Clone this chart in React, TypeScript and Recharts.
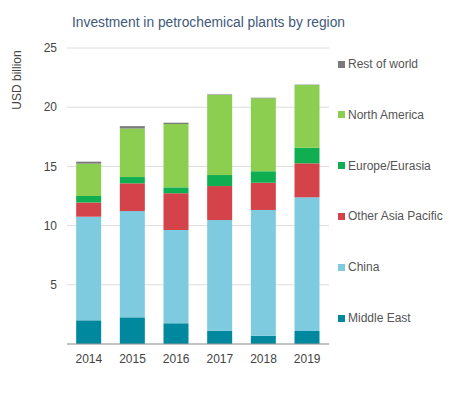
import React from 'react';
import { BarChart, Bar, XAxis, YAxis, CartesianGrid } from 'recharts';

const years = ['2014', '2015', '2016', '2017', '2018', '2019'];
const middleEast = [2.0, 2.25, 1.75, 1.13, 0.7, 1.1];
const china = [8.75, 8.98, 7.88, 9.34, 10.62, 11.29];
const otherAsiaPacific = [1.2, 2.34, 3.1, 2.87, 2.3, 2.87];
const europeEurasia = [0.55, 0.53, 0.5, 0.93, 0.97, 1.32];
const northAmerica = [2.73, 4.1, 5.35, 6.76, 6.16, 5.3];
const restOfWorld = [0.17, 0.2, 0.11, 0.05, 0.05, 0.03];
const yTicks = [0, 5, 10, 15, 20, 25];

const series = [
  { key: 'Middle East', values: middleEast, color: '#00889e' },
  { key: 'China', values: china, color: '#7ecbe0' },
  { key: 'Other Asia Pacific', values: otherAsiaPacific, color: '#d4434a' },
  { key: 'Europe/Eurasia', values: europeEurasia, color: '#0fae50' },
  { key: 'North America', values: northAmerica, color: '#8cce50' },
  { key: 'Rest of world', values: restOfWorld, color: '#7a7a7a' },
];

const data = years.map((y, i) => {
  const row: Record<string, any> = { year: y };
  series.forEach((s) => (row[s.key] = s.values[i]));
  return row;
});

const FONT = '"Liberation Sans", Arial, sans-serif';

const LegendBlock = () => {
  const items = [...series].reverse();
  return (
    <div style={{ position: 'absolute', left: 338, top: 57, width: 112, height: 300 }}>
      {items.map((s, i) => (
        <div
          key={s.key}
          style={{
            position: 'absolute',
            left: 0,
            top: i * 50.8,
            display: 'flex',
            alignItems: 'center',
            fontFamily: FONT,
            fontSize: 12,
            color: '#555',
            whiteSpace: 'nowrap',
            lineHeight: '14px',
          }}
        >
          <span
            style={{
              display: 'inline-block',
              width: 7,
              height: 7,
              background: s.color,
              marginRight: 3,
            }}
          />
          {s.key}
        </div>
      ))}
    </div>
  );
};

export default function App() {
  return (
    <div style={{ position: 'absolute', left: 0, top: 0, width: 450, height: 396, background: '#fff' }}>
      <div
        style={{
          position: 'absolute',
          left: 72,
          top: 15,
          fontFamily: FONT,
          fontSize: 13.8,
          color: '#41597a',
          whiteSpace: 'nowrap',
        }}
      >
        Investment in petrochemical plants by region
      </div>
      <div
        style={{
          position: 'absolute',
          left: 17,
          top: 80,
          transform: 'translate(-50%, -50%) rotate(-90deg)',
          fontFamily: FONT,
          fontSize: 12,
          color: '#444',
          whiteSpace: 'nowrap',
        }}
      >
        USD billion
      </div>
      <BarChart
        width={450}
        height={396}
        data={data}
        margin={{ top: 48, right: 121, bottom: 32, left: 0 }}
        barCategoryGap="21%"
      >
        <CartesianGrid vertical={false} stroke="#dcdcdc" />
        <XAxis
          dataKey="year"
          height={20}
          interval={0}
          axisLine={{ stroke: '#999' }}
          tickLine={false}
          tick={{ fill: '#444', fontSize: 12, fontFamily: FONT }}
          tickMargin={4}
        />
        <YAxis
          width={67}
          domain={[0, 25]}
          ticks={yTicks}
          interval={0}
          axisLine={false}
          tickLine={false}
          tickSize={0}
          tickMargin={10}
          tick={{ fill: '#444', fontSize: 12, fontFamily: FONT }}
          tickFormatter={(v: number) => (v === 0 ? '' : String(v))}
        />
        {series.map((s) => (
          <Bar key={s.key} dataKey={s.key} stackId="a" fill={s.color} isAnimationActive={false} />
        ))}
      </BarChart>
      <LegendBlock />
    </div>
  );
}
